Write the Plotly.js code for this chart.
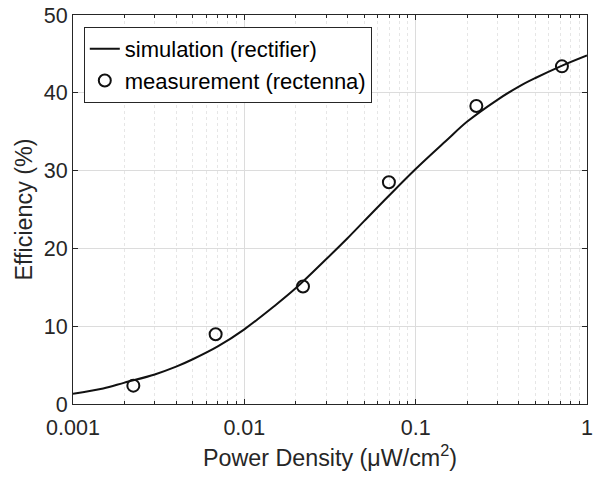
<!DOCTYPE html>
<html>
<head>
<meta charset="utf-8">
<script src="https://cdn.plot.ly/plotly-3.0.1.min.js"></script>
<style>html,body{margin:0;padding:0;background:#fff;}#chart{width:602px;height:479px;}</style>
</head>
<body>
<div id="chart"></div>
<script>
// Simulation curve (rectifier)
var simX = [0.001, 0.0015, 0.002, 0.003, 0.004, 0.005, 0.007, 0.01, 0.015, 0.02, 0.03, 0.04, 0.05, 0.07, 0.1, 0.15, 0.2, 0.3, 0.4, 0.5, 0.7, 1];
var simY = [1.33, 2.0, 2.75, 3.8, 4.8, 5.75, 7.4, 9.6, 12.6, 14.9, 18.6, 21.3, 23.5, 26.8, 30.2, 33.8, 36.3, 39.1, 40.8, 41.9, 43.4, 44.8];
// Measurement (rectenna)
var measX = [0.00225, 0.0068, 0.022, 0.0698, 0.226, 0.714];
var measY = [2.36, 8.97, 15.1, 28.5, 38.3, 43.4];
var seriesNames = ['simulation (rectifier)', 'measurement (rectenna)'];
var xTickVals = [0.001, 0.01, 0.1, 1];
var xTickText = ['0.001', '0.01', '0.1', '1'];
var yTickVals = [0, 10, 20, 30, 40, 50];

var axisColor = '#262626';
var fontFam = 'Liberation Sans, Arial, Helvetica, sans-serif';

var traces = [
  {x: simX, y: simY, mode: 'lines', name: seriesNames[0],
   line: {color: '#111111', width: 2, shape: 'spline', smoothing: 1}},
  {x: measX, y: measY, mode: 'markers', name: seriesNames[1],
   marker: {symbol: 'circle-open', size: 12, color: '#111111', line: {width: 2, color: '#111111'}}}
];

var layout = {
  width: 602, height: 479,
  margin: {l: 73, r: 15, t: 15, b: 75},
  paper_bgcolor: '#ffffff', plot_bgcolor: '#ffffff',
  font: {family: fontFam, color: axisColor, size: 21.5},
  showlegend: true,
  legend: {x: 0.021, y: 0.969, xanchor: 'left', yanchor: 'top',
           bordercolor: axisColor, borderwidth: 1, bgcolor: '#ffffff',
           font: {family: fontFam, size: 22, color: '#000'},
           itemwidth: 30, tracegroupgap: 0},
  xaxis: {
    type: 'log', range: [-3, 0],
    tickvals: xTickVals, ticktext: xTickText,
    ticks: 'inside', ticklen: 5, tickcolor: axisColor,
    ticklabelstandoff: 4,
    showline: true, linecolor: axisColor, linewidth: 1, mirror: 'ticks',
    showgrid: true, gridcolor: '#dcdcdc', gridwidth: 1,
    zeroline: false,
    tickfont: {size: 21.5, color: axisColor},
    minor: {dtick: 'D1', showgrid: true, gridcolor: '#e6e6e6', griddash: 'dot', gridwidth: 1,
            ticks: 'inside', ticklen: 3, tickcolor: axisColor},
    title: {text: 'Power Density (μW/cm<sup>2</sup>)', font: {size: 23.3, color: axisColor}, standoff: 10}
  },
  yaxis: {
    range: [0, 50], tickvals: yTickVals,
    ticks: 'inside', ticklen: 5, tickcolor: axisColor,
    showline: true, linecolor: axisColor, linewidth: 1, mirror: 'ticks',
    showgrid: true, gridcolor: '#dcdcdc', gridwidth: 1,
    zeroline: false,
    tickfont: {size: 21.5, color: axisColor},
    title: {text: 'Efficiency (%)', font: {size: 23.3, color: axisColor}, standoff: 4}
  }
};

Plotly.newPlot('chart', traces, layout, {staticPlot: true, displayModeBar: false});
</script>
</body>
</html>
